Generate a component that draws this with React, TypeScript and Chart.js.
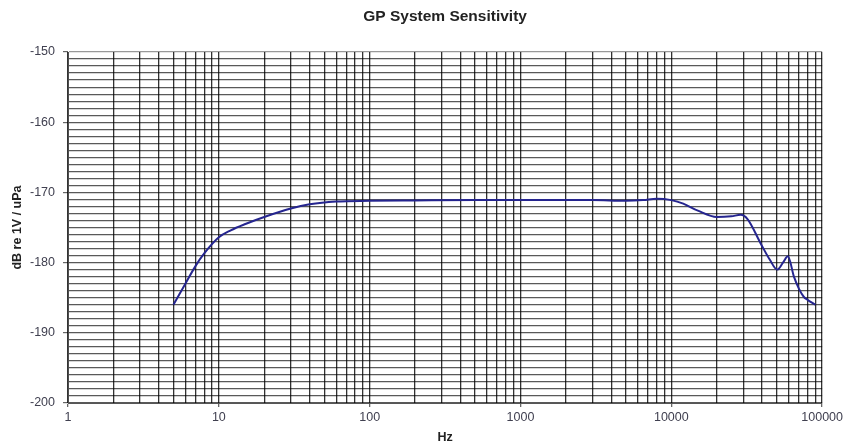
import React, { useEffect, useRef } from 'react';
import { Chart, registerables } from 'chart.js';

Chart.register(...registerables);

const chartTitle = 'GP System Sensitivity';
const xAxisTitle = 'Hz';
const yAxisTitle = 'dB re 1V / uPa';

const freqHz = [5, 6, 7, 8, 10, 12, 15, 20, 30, 40, 60, 100, 200, 500, 1000, 2000, 3000, 5000, 6500, 8000, 10000, 12000, 15000, 20000, 25000, 28800, 32000, 39200, 45000, 50400, 55000, 59300, 65000, 70100, 75700, 80000, 90300];
const sensitivityDb = [-186.0, -183.0, -180.5, -178.7, -176.4, -175.4, -174.5, -173.5, -172.3, -171.7, -171.3, -171.2, -171.15, -171.1, -171.1, -171.1, -171.1, -171.2, -171.1, -170.9, -171.1, -171.6, -172.6, -173.5, -173.4, -173.2, -173.8, -177.3, -179.6, -181.0, -180.0, -179.1, -182.0, -183.7, -184.9, -185.3, -186.0];

const xDecades = [1, 10, 100, 1000, 10000, 100000];
const xMinorMultipliers = [1, 2, 3, 4, 5, 6, 7, 8, 9];
const yMin = -200;
const yMax = -150;
const yLabelStep = 10;

const isDecade = (v: number) => Math.abs(Math.log10(v) - Math.round(Math.log10(v))) < 1e-9;

const FONT = 'Liberation Sans, Arial, sans-serif';

export default function App() {
  const ref = useRef<HTMLCanvasElement | null>(null);

  useEffect(() => {
    if (!ref.current) return;
    const xTickValues: number[] = [];
    xDecades.forEach((d, i) => {
      if (i === xDecades.length - 1) {
        xTickValues.push(d);
      } else {
        xMinorMultipliers.forEach((m) => xTickValues.push(m * d));
      }
    });

    const chart = new Chart(ref.current, {
      type: 'line',
      data: {
        datasets: [
          {
            data: freqHz.map((f, i) => ({ x: f, y: sensitivityDb[i] })),
            borderColor: '#25258f',
            borderWidth: 2,
            pointRadius: 0,
            fill: false,
            cubicInterpolationMode: 'monotone',
          },
        ],
      },
      options: {
        responsive: false,
        animation: false,
        layout: { padding: { left: 0, right: 21, top: 0, bottom: 0 } },
        plugins: {
          legend: { display: false },
          tooltip: { enabled: false },
          title: {
            display: true,
            text: chartTitle,
            fullSize: false,
            color: '#222',
            font: { family: FONT, size: 15.5, weight: 'bold', lineHeight: 1.2 },
            padding: { top: 7, bottom: 26.4 },
          },
        },
        scales: {
          x: {
            type: 'logarithmic',
            min: 1,
            max: 100000,
            afterBuildTicks: (scale: any) => {
              scale.ticks = xTickValues.map((v) => ({ value: v }));
            },
            afterFit: (scale: any) => {
              scale.height = 42;
            },
            ticks: {
              autoSkip: false,
              maxRotation: 0,
              minRotation: 0,
              padding: 3,
              color: '#404050',
              font: { family: FONT, size: 12.5 },
              callback: (value: any) => (isDecade(Number(value)) ? String(Number(value)) : ''),
            },
            grid: {
              color: 'rgba(0,0,0,0.8)',
              lineWidth: 1.3,
              tickLength: 4,
              tickColor: (ctx: any) => (ctx.tick && isDecade(ctx.tick.value) ? 'rgba(0,0,0,0.6)' : 'rgba(0,0,0,0)'),
            },
            border: { color: 'rgba(0,0,0,0.6)' },
            title: {
              display: true,
              text: xAxisTitle,
              color: '#222',
              font: { family: FONT, size: 12.5, weight: 'bold', lineHeight: 1.2 },
              padding: { top: 1.5, bottom: 0 },
            },
          },
          y: {
            type: 'linear',
            min: yMin,
            max: yMax,
            afterFit: (scale: any) => {
              scale.width = 68;
            },
            ticks: {
              stepSize: 1,
              autoSkip: false,
              padding: 8,
              color: '#404050',
              font: { family: FONT, size: 12.5 },
              callback: (value: any) => (Number(value) % yLabelStep === 0 ? String(value) : ''),
            },
            grid: {
              color: (ctx: any) => (ctx.tick && ctx.tick.value === yMax ? 'rgba(0,0,0,0.4)' : 'rgba(0,0,0,0.65)'),
              lineWidth: 1.2,
              tickLength: 5,
              tickColor: (ctx: any) => (ctx.tick && ctx.tick.value % yLabelStep === 0 ? 'rgba(0,0,0,0.6)' : 'rgba(0,0,0,0)'),
            },
            border: { color: 'rgba(0,0,0,0.6)' },
            title: {
              display: true,
              text: yAxisTitle,
              color: '#222',
              font: { family: FONT, size: 12.5, weight: 'bold', lineHeight: 1.2 },
              padding: { top: 10.5, bottom: 0 },
            },
          },
        },
      },
    } as any);
    return () => chart.destroy();
  }, []);

  return (
    <div style={{ position: 'absolute', left: 0, top: 0, width: 846, height: 445, background: '#fff' }}>
      <canvas ref={ref} width={846} height={445} style={{ width: 846, height: 445, display: 'block' }} />
    </div>
  );
}
